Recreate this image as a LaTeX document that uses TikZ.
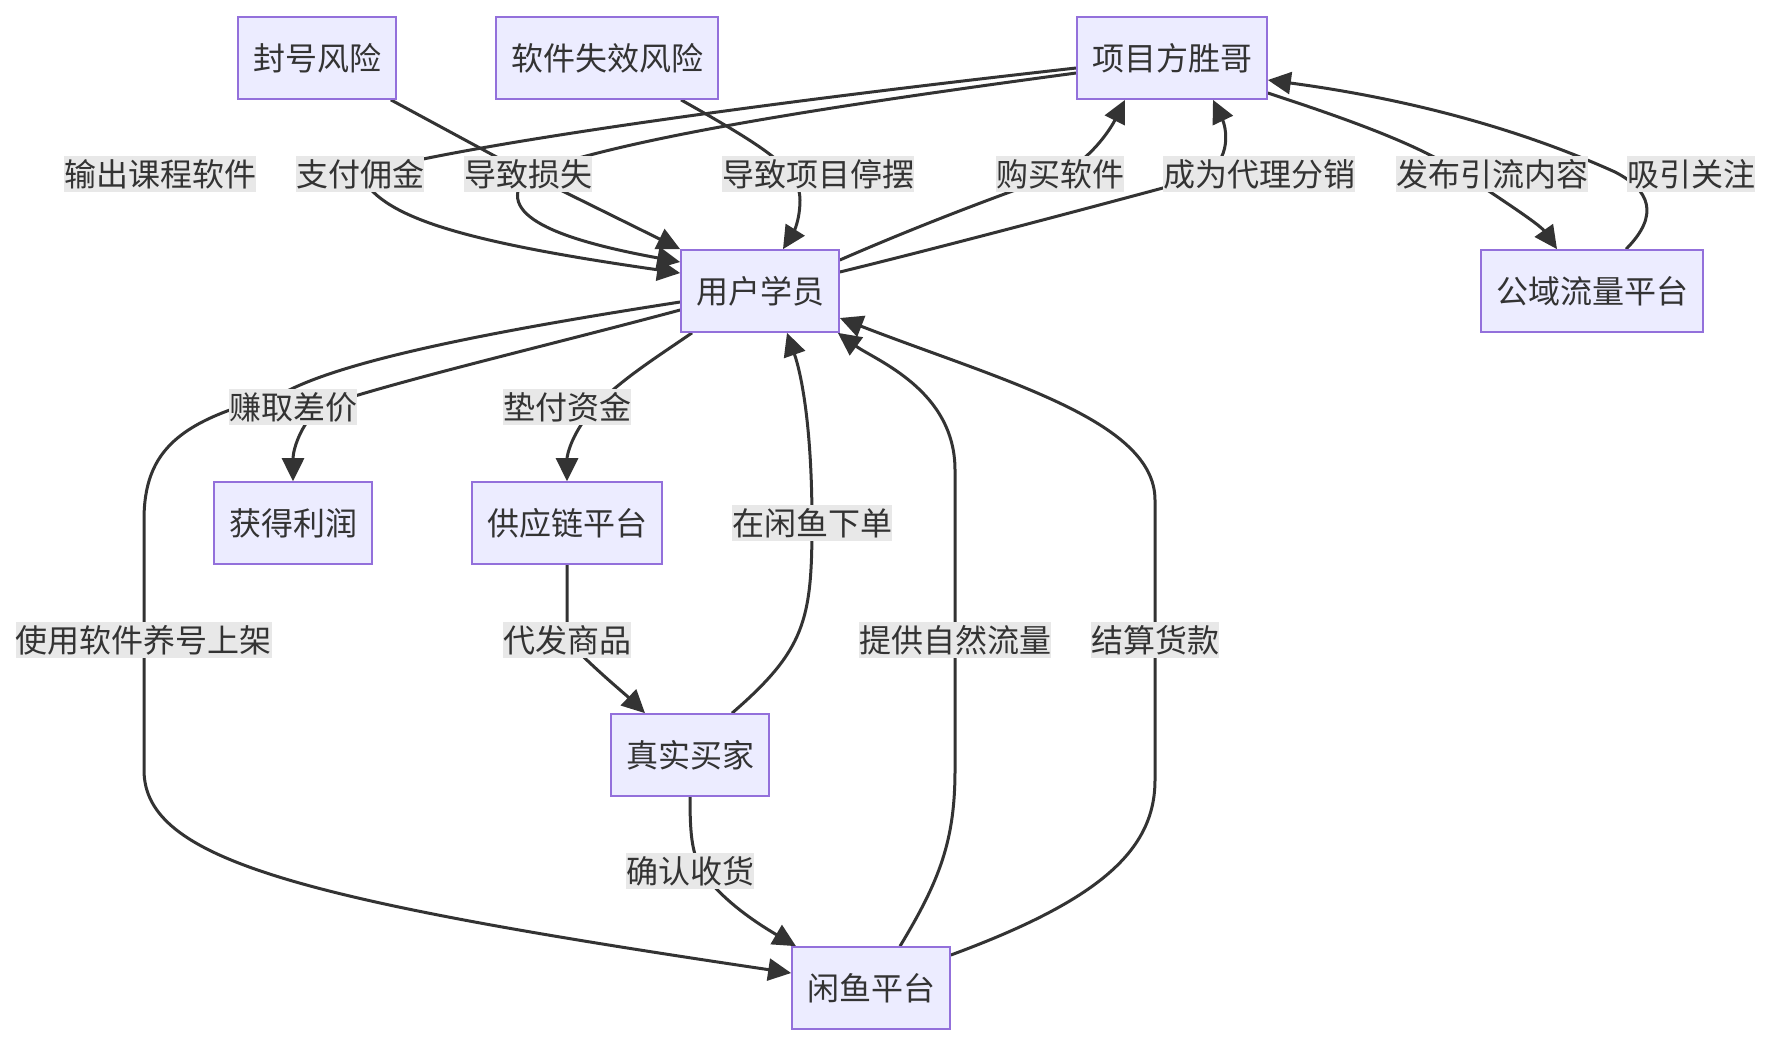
\documentclass[tikz,border=0pt]{standalone}
\usepackage{fontspec}
\setmainfont{Noto Sans CJK SC}
\usepackage{tikz}
\usetikzlibrary{arrows.meta, calc, backgrounds}
\definecolor{nodefill}{HTML}{ECECFF}
\definecolor{nodeline}{HTML}{9370DB}
\definecolor{labelbg}{HTML}{E8E8E8}
\definecolor{linecol}{HTML}{333333}
\tikzset{
  box/.style={
    rectangle, draw=nodeline, fill=nodefill, line width=0.85pt,
    minimum height=41pt, inner xsep=7.5pt, inner ysep=0pt,
    font=\fontsize{16}{18}\selectfont, text=linecol
  },
  edge label/.style={
    fill=labelbg, inner xsep=0pt, inner ysep=1.5pt,
    font=\fontsize{16}{18}\selectfont, text=linecol
  },
  flow/.style={draw=linecol, line width=1.5pt, -{Triangle[length=11.5pt, width=11pt]}},
}

\begin{document}
\begin{tikzpicture}[x=0.5pt, y=-0.5pt]
  % Boxes
  \node[box] (fenghao) at (317,58) {封号风险};
  \node[box] (shixiao) at (607,58) {软件失效风险};
  \node[box] (shengge) at (1172,58) {项目方胜哥};
  \node[box] (xueyuan) at (760,291) {用户学员};
  \node[box] (gongyu) at (1592,291) {公域流量平台};
  \node[box] (lirun) at (293,523) {获得利润};
  \node[box] (gongying) at (567,523) {供应链平台};
  \node[box] (maijia) at (690,755) {真实买家};
  \node[box] (xianyu) at (871,988) {闲鱼平台};

  % Edge labels
  \node[edge label] (l-shuchu) at (160,174) {输出课程软件};
  \node[edge label] (l-zhifu) at (360,174) {支付佣金};
  \node[edge label] (l-sunshi) at (528,174) {导致损失};
  \node[edge label] (l-tingbai) at (818,174) {导致项目停摆};
  \node[edge label] (l-goumai) at (1060,174) {购买软件};
  \node[edge label] (l-daili) at (1259,174) {成为代理分销};
  \node[edge label] (l-fabu) at (1492,174) {发布引流内容};
  \node[edge label] (l-xiyin) at (1691,174) {吸引关注};
  \node[edge label] (l-zhuanqu) at (293,407) {赚取差价};
  \node[edge label] (l-dianfu) at (567,407) {垫付资金};
  \node[edge label] (l-xiadan) at (812,523) {在闲鱼下单};
  \node[edge label] (l-yanghao) at (144,640) {使用软件养号上架};
  \node[edge label] (l-daifa) at (567,640) {代发商品};
  \node[edge label] (l-liuliang) at (955,640) {提供自然流量};
  \node[edge label] (l-jiesuan) at (1155,640) {结算货款};
  \node[edge label] (l-queren) at (690,871) {确认收货};

  \begin{scope}[on background layer]
    \useasboundingbox[fill=white] (0,0) rectangle (1772,1046);

    % Top row into the student
    \draw[flow] ($(shengge.west)+(0,10)$) .. controls (700,110) and (440,150) .. (l-zhifu.center)
      .. controls (380,215) and (450,240) .. ($(xueyuan.west)+(0,-18)$);
    \draw[flow] ($(shengge.west)+(0,15)$) .. controls (800,110) and (620,140) .. (l-sunshi.center)
      .. controls (490,215) and (560,240) .. ($(xueyuan.west)+(0,-29)$);
    \draw[flow] ($(fenghao.south east)+(-6,0)$) -- (l-sunshi.center) -- (xueyuan.north west);
    \draw[flow] ($(shixiao.south)+(74,0)$) .. controls (770,150) and (800,170) .. (800,200)
      .. controls (800,225) and (790,238) .. ($(xueyuan.north)+(23,0)$);

    % Student back to the project side
    \draw[flow] ($(xueyuan.east)+(0,-31)$) .. controls (920,225) and (1000,195) .. (l-goumai.center)
      .. controls (1090,160) and (1110,130) .. ($(shengge.south)+(-47,0)$);
    \draw[flow] ($(xueyuan.east)+(0,-19)$) .. controls (950,245) and (1100,205) .. (1200,178)
      .. controls (1235,160) and (1225,125) .. ($(shengge.south)+(41,0)$);

    % Public traffic loop
    \draw[flow] ($(shengge.east)+(0,35)$) .. controls (1350,120) and (1420,145) .. (1463,174)
      .. controls (1510,205) and (1540,225) .. ($(gongyu.north)+(-35,0)$);
    \draw[flow] ($(gongyu.north)+(34,0)$) .. controls (1660,215) and (1650,190) .. (1615,172)
      .. controls (1500,120) and (1380,95) .. ($(shengge.east)+(0,22)$);

    % Student downwards
    \draw[flow] ($(xueyuan.west)+(0,19)$) .. controls (550,345) and (400,380) .. (320,407)
      .. controls (300,425) and (293,450) .. (lirun.north);
    \draw[flow] ($(xueyuan.west)+(0,11)$) .. controls (500,330) and (340,360) .. (280,395)
      .. controls (180,420) and (144,450) .. (144,520) -- (144,770)
      .. controls (144,860) and (300,900) .. ($(xianyu.west)+(0,-15)$);
    \draw[flow] ($(xueyuan.south)+(-68,0)$) .. controls (660,355) and (620,380) .. (595,407)
      .. controls (572,432) and (567,455) .. (gongying.north);

    % Goods and orders
    \draw[flow] (gongying.south) .. controls (567,600) and (567,615) .. (l-daifa.center)
      .. controls (590,665) and (625,694) .. ($(maijia.north)+(-45,0)$);
    \draw[flow] ($(maijia.north)+(42,0)$) .. controls (805,650) and (812,620) .. (l-xiadan.center)
      .. controls (812,420) and (800,370) .. ($(xueyuan.south)+(27,0)$);
    \draw[flow] (maijia.south) .. controls (690,835) and (692,850) .. (700,868)
      .. controls (720,900) and (760,925) .. ($(xianyu.north)+(-75,0)$);

    % Xianyu back to the student
    \draw[flow] ($(xianyu.north)+(29,0)$) .. controls (940,880) and (955,840) .. (955,770) -- (955,470)
      .. controls (955,390) and (875,360) .. ($(xueyuan.south east)+(-2,0)$);
    \draw[flow] ($(xianyu.east)+(0,-33)$) .. controls (1100,900) and (1155,850) .. (1155,780) -- (1155,500)
      .. controls (1155,420) and (1000,380) .. ($(xueyuan.east)+(0,27)$);
  \end{scope}
\end{tikzpicture}
\end{document}
